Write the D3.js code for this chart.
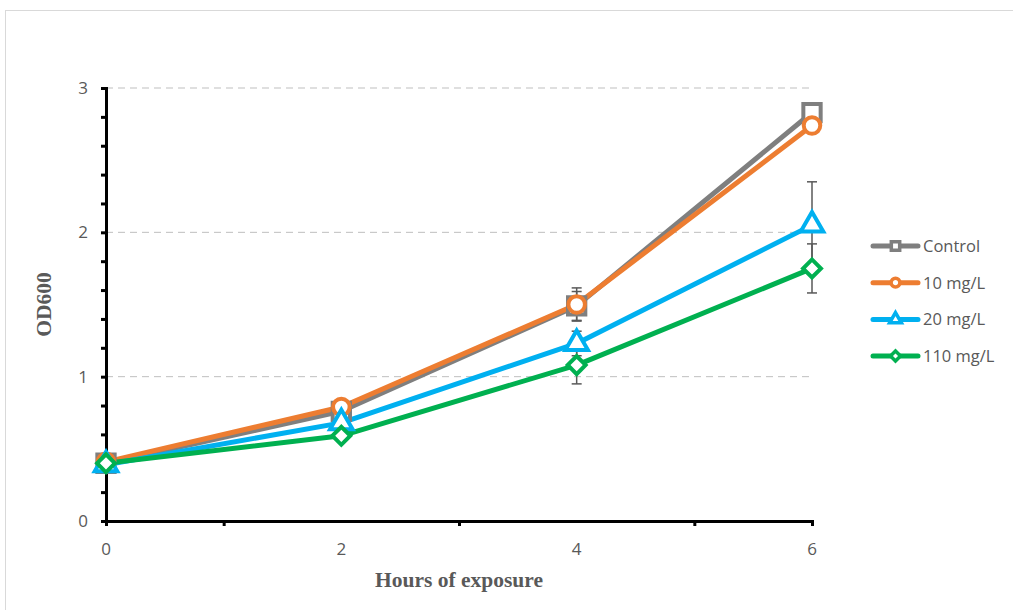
<!DOCTYPE html>
<html>
<head>
<meta charset="utf-8">
<script src="https://cdn.jsdelivr.net/npm/d3@7"></script>
<style>
  body { margin: 0; background: #fff; }
  svg { display: block; }
</style>
</head>
<body>
<div id="chart"></div>
<script>
// hours and OD600 readings
const hours = [0, 2, 4, 6];
const seriesNames = ['Control', '10 mg/L', '20 mg/L', '110 mg/L'];
const controlOD = [0.40, 0.76, 1.49, 2.83];
const od10 = [0.41, 0.79, 1.50, 2.74];
const od20 = [0.39, 0.68, 1.23, 2.05];
const od110 = [0.40, 0.59, 1.08, 1.75];
const controlErr = [0.01, 0.02, 0.10, 0.03];
const err10 = [0.01, 0.02, 0.115, 0.03];
const err20 = [0.01, 0.02, 0.085, 0.30];
const err110 = [0.01, 0.02, 0.13, 0.17];
const yTicks = [0, 1, 2, 3];
const xTickLabels = [0, 2, 4, 6];

const colors = ['#7f7f7f', '#ed7d31', '#00b0f0', '#00b050'];
const symbols = [d3.symbolSquare, d3.symbolCircle, d3.symbolTriangle, d3.symbolSquare];
const rotations = [0, 0, 0, 45];

const series = [controlOD, od10, od20, od110].map((vals, i) => ({
  name: seriesNames[i],
  color: colors[i],
  symbol: symbols[i],
  rot: rotations[i],
  err: [controlErr, err10, err20, err110][i],
  points: vals.map((v, j) => ({ x: hours[j], y: v }))
}));

const width = 1013, height = 610;
const margin = { left: 106, top: 88, right: 201, bottom: 89 };

const svg = d3.select('#chart').append('svg')
  .attr('width', width)
  .attr('height', height);

// chart frame
svg.append('rect')
  .attr('x', 5.5).attr('y', 10.5)
  .attr('width', width + 20).attr('height', height + 20)
  .attr('fill', 'none')
  .attr('stroke', '#d9d9d9');

const x = d3.scaleLinear().domain([0, 6]).range([margin.left, width - margin.right]);
const y = d3.scaleLinear().domain([0, 3]).range([height - margin.bottom, margin.top]);

// gridlines
svg.append('g')
  .selectAll('line')
  .data(yTicks.slice(1))
  .join('line')
  .attr('x1', x(0)).attr('x2', x(6))
  .attr('y1', d => y(d)).attr('y2', d => y(d))
  .attr('stroke', '#bfbfbf')
  .attr('stroke-width', 1)
  .attr('stroke-dasharray', '7,5');

// y axis
const yAxis = svg.append('g')
  .attr('transform', `translate(${x(0)},0)`)
  .call(d3.axisLeft(y).ticks(15).tickSize(5).tickFormat(() => ''));
yAxis.select('.domain').attr('stroke', '#000').attr('stroke-width', 3);
yAxis.selectAll('.tick line').attr('stroke', '#000').attr('stroke-width', 3);

svg.append('g')
  .selectAll('text')
  .data(yTicks)
  .join('text')
  .attr('x', x(0) - 18)
  .attr('y', d => y(d) + 6)
  .attr('text-anchor', 'end')
  .attr('font-family', 'Open Sans, sans-serif')
  .attr('font-size', 17)
  .attr('fill', '#595959')
  .text(d => d);

// x axis
const xAxis = svg.append('g')
  .attr('transform', `translate(0,${y(0)})`)
  .call(d3.axisBottom(x).tickValues([1, 3, 5, 6]).tickSize(5).tickFormat(() => ''));
xAxis.select('.domain').attr('stroke', '#000').attr('stroke-width', 3);
xAxis.selectAll('.tick line').attr('stroke', '#000').attr('stroke-width', 3);

svg.append('g')
  .selectAll('text')
  .data(xTickLabels)
  .join('text')
  .attr('x', d => x(d))
  .attr('y', y(0) + 34)
  .attr('text-anchor', 'middle')
  .attr('font-family', 'Open Sans, sans-serif')
  .attr('font-size', 17)
  .attr('fill', '#595959')
  .text(d => d);

// axis titles
svg.append('text')
  .attr('x', (x(0) + x(6)) / 2)
  .attr('y', 587)
  .attr('text-anchor', 'middle')
  .attr('font-family', 'Liberation Serif, serif')
  .attr('font-weight', 'bold')
  .attr('font-size', 21.5)
  .attr('fill', '#595959')
  .text('Hours of exposure');

svg.append('text')
  .attr('transform', `translate(51,${(y(0) + y(3)) / 2}) rotate(-90)`)
  .attr('text-anchor', 'middle')
  .attr('font-family', 'Liberation Serif, serif')
  .attr('font-weight', 'bold')
  .attr('font-size', 21.5)
  .attr('fill', '#595959')
  .text('OD600');

// lines
const line = d3.line().x(d => x(d.x)).y(d => y(d.y));

svg.append('g')
  .selectAll('path')
  .data(series)
  .join('path')
  .attr('d', d => line(d.points))
  .attr('fill', 'none')
  .attr('stroke', d => d.color)
  .attr('stroke-width', 5)
  .attr('stroke-linejoin', 'round');

// error bars
const errG = svg.append('g');
series.forEach(s => {
  s.points.forEach((p, j) => {
    const e = s.err[j];
    const g = errG.append('g').attr('stroke', '#595959').attr('stroke-width', 1.5);
    g.append('line')
      .attr('x1', x(p.x)).attr('x2', x(p.x))
      .attr('y1', y(p.y - e)).attr('y2', y(p.y + e));
    [p.y - e, p.y + e].forEach(v => {
      g.append('line')
        .attr('x1', x(p.x) - 5).attr('x2', x(p.x) + 5)
        .attr('y1', y(v)).attr('y2', y(v));
    });
  });
});

// markers
const markerSize = [300, 215, 220, 160];
series.forEach((s, i) => {
  svg.append('g')
    .selectAll('path')
    .data(s.points)
    .join('path')
    .attr('transform', d => `translate(${x(d.x)},${y(d.y)}) rotate(${s.rot})`)
    .attr('d', d3.symbol().type(s.symbol).size(markerSize[i]))
    .attr('fill', '#fff')
    .attr('stroke', s.color)
    .attr('stroke-width', 4)
    .attr('stroke-linejoin', 'miter');
});

// legend
const legend = svg.append('g')
  .selectAll('g')
  .data(series)
  .join('g')
  .attr('transform', (d, i) => `translate(873,${246 + i * 36.7})`);

legend.append('line')
  .attr('x1', 0).attr('x2', 45)
  .attr('stroke', d => d.color)
  .attr('stroke-width', 5)
  .attr('stroke-linecap', 'round');

legend.append('path')
  .attr('transform', d => `translate(22.5,0) rotate(${d.rot})`)
  .attr('d', (d, i) => d3.symbol().type(d.symbol).size([70, 60, 60, 50][i])())
  .attr('fill', '#fff')
  .attr('stroke', d => d.color)
  .attr('stroke-width', 3.5);

legend.append('text')
  .attr('x', 50)
  .attr('y', 6)
  .attr('font-family', 'Open Sans, sans-serif')
  .attr('font-size', 16.5)
  .attr('fill', '#595959')
  .text(d => d.name);
</script>
</body>
</html>
